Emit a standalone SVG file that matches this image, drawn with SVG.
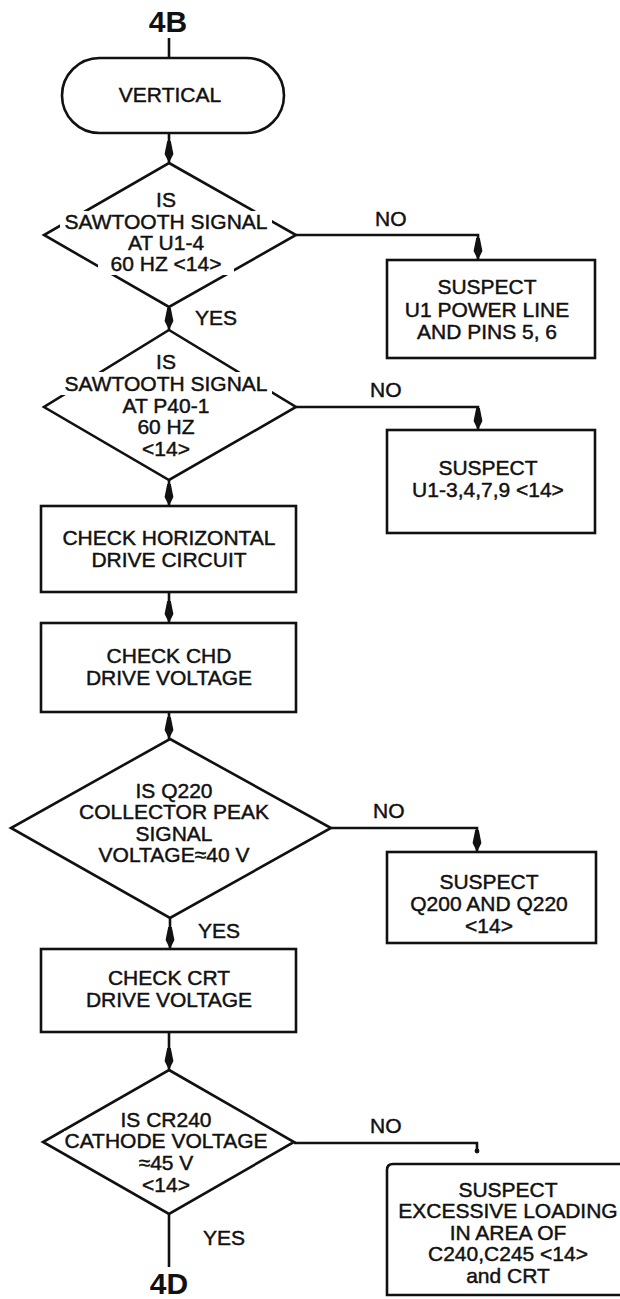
<svg xmlns="http://www.w3.org/2000/svg" width="620" height="1299" viewBox="0 0 620 1299">
<style>
  .shape { fill: #fff; stroke: #111; stroke-width: 2.6; stroke-linejoin: miter; }
  .conn { fill: none; stroke: #111; stroke-width: 2.6; }
  .t { font-family: "Liberation Sans", Arial, sans-serif; font-size: 21px; fill: #111; stroke: #111; stroke-width: 0.45; text-anchor: middle; }
  .gap { fill: #fff; stroke: none; }
  .lbl { font-family: "Liberation Sans", Arial, sans-serif; font-size: 21px; fill: #111; stroke: #111; stroke-width: 0.45; }
  .big { font-family: "Liberation Sans", Arial, sans-serif; font-weight: bold; fill: #111; text-anchor: middle; }
</style>
<defs>
  <marker id="arr" viewBox="-24 -5 25 10" refX="0" refY="0" markerWidth="25" markerHeight="10" markerUnits="userSpaceOnUse" orient="auto">
    <path d="M0,0 L-9,-4.4 L-22,-1.8 L-22,1.8 L-9,4.4 Z" fill="#111"/>
  </marker>
</defs>
<rect width="620" height="1299" fill="#fff"/>

<g id="connectors">
  <line class="conn" x1="169" y1="38" x2="169" y2="58"/>
  <line class="conn" x1="169" y1="133" x2="169" y2="163" marker-end="url(#arr)"/>
  <line class="conn" x1="169" y1="307" x2="169" y2="330" marker-end="url(#arr)"/>
  <polyline class="conn" points="296,235 478,235 478,260" marker-end="url(#arr)"/>
  <line class="conn" x1="169" y1="480" x2="169" y2="506" marker-end="url(#arr)"/>
  <polyline class="conn" points="296,407 478,407 478,430" marker-end="url(#arr)"/>
  <line class="conn" x1="169" y1="592" x2="169" y2="623" marker-end="url(#arr)"/>
  <line class="conn" x1="169" y1="712" x2="169" y2="739" marker-end="url(#arr)"/>
  <polyline class="conn" points="331,828 477,828 477,852" marker-end="url(#arr)"/>
  <line class="conn" x1="170" y1="918" x2="170" y2="949" marker-end="url(#arr)"/>
  <line class="conn" x1="169" y1="1032" x2="169" y2="1070" marker-end="url(#arr)"/>
  <polyline class="conn" points="294,1143 477,1143 477,1151"/>
  <circle cx="477" cy="1151" r="2.4" fill="#111"/>
  <line class="conn" x1="169" y1="1214" x2="169" y2="1267"/>
</g>

<g id="label-4B"><text class="big" x="168" y="32" font-size="30">4B</text></g>

<g id="start">
  <rect class="shape" x="62" y="58" width="222" height="75" rx="37.5" ry="37.5"/>
  <text class="t" x="170" y="102">VERTICAL</text>
</g>

<g id="d1">
  <polygon class="shape" points="169,163 296,235 169,307 44,235"/>
  <rect class="gap" x="60" y="211" width="212" height="22"/>
  <rect class="gap" x="98" y="254" width="136" height="21"/>
  <text class="t" x="166" y="207">IS</text>
  <text class="t" x="166" y="229">SAWTOOTH SIGNAL</text>
  <text class="t" x="166" y="250">AT U1-4</text>
  <text class="t" x="166" y="271">60 HZ &lt;14&gt;</text>
</g>
<text class="lbl" x="375" y="226">NO</text>
<text class="lbl" x="195" y="325">YES</text>

<g id="s1">
  <rect class="shape" x="387" y="260" width="208" height="98"/>
  <text class="t" x="487" y="294">SUSPECT</text>
  <text class="t" x="487" y="317">U1 POWER LINE</text>
  <text class="t" x="487" y="339">AND PINS 5, 6</text>
</g>

<g id="d2">
  <polygon class="shape" points="169,330 296,407 169,480 44,407"/>
  <rect class="gap" x="60" y="372" width="212" height="23"/>
  <text class="t" x="166" y="369">IS</text>
  <text class="t" x="166" y="391">SAWTOOTH SIGNAL</text>
  <text class="t" x="166" y="413">AT P40-1</text>
  <text class="t" x="166" y="434">60 HZ</text>
  <text class="t" x="166" y="456">&lt;14&gt;</text>
</g>
<text class="lbl" x="370" y="397">NO</text>

<g id="s2">
  <rect class="shape" x="387" y="430" width="208" height="103"/>
  <text class="t" x="488" y="475">SUSPECT</text>
  <text class="t" x="488" y="497">U1-3,4,7,9 &lt;14&gt;</text>
</g>

<g id="b-horiz">
  <rect class="shape" x="41" y="506" width="255" height="86"/>
  <text class="t" x="169" y="545">CHECK HORIZONTAL</text>
  <text class="t" x="169" y="567">DRIVE CIRCUIT</text>
</g>

<g id="b-chd">
  <rect class="shape" x="41" y="623" width="255" height="89"/>
  <text class="t" x="169" y="663">CHECK CHD</text>
  <text class="t" x="169" y="685">DRIVE VOLTAGE</text>
</g>

<g id="d3">
  <polygon class="shape" points="170,739 331,828 170,918 11,828"/>
  <text class="t" x="174" y="798">IS Q220</text>
  <text class="t" x="174" y="819">COLLECTOR PEAK</text>
  <text class="t" x="174" y="841">SIGNAL</text>
  <text class="t" x="174" y="862">VOLTAGE≈40 V</text>
</g>
<text class="lbl" x="373" y="818">NO</text>
<text class="lbl" x="198" y="938">YES</text>

<g id="s3">
  <rect class="shape" x="387" y="852" width="209" height="91"/>
  <text class="t" x="489" y="889">SUSPECT</text>
  <text class="t" x="489" y="911">Q200 AND Q220</text>
  <text class="t" x="489" y="933">&lt;14&gt;</text>
</g>

<g id="b-crt">
  <rect class="shape" x="41" y="949" width="255" height="83"/>
  <text class="t" x="169" y="985">CHECK CRT</text>
  <text class="t" x="169" y="1007">DRIVE VOLTAGE</text>
</g>

<g id="d4">
  <polygon class="shape" points="169,1070 294,1142 169,1214 43,1142"/>
  <rect class="gap" x="64" y="1131" width="206" height="21"/>
  <text class="t" x="166" y="1127">IS CR240</text>
  <text class="t" x="166" y="1148">CATHODE VOLTAGE</text>
  <text class="t" x="166" y="1170">≈45 V</text>
  <text class="t" x="166" y="1192">&lt;14&gt;</text>
</g>
<text class="lbl" x="370" y="1133">NO</text>
<text class="lbl" x="203" y="1245">YES</text>

<g id="s4">
  <path class="shape" d="M625,1164 H393 Q387,1164 387,1170 V1295 H625"/>
  <text class="t" x="508" y="1197">SUSPECT</text>
  <text class="t" x="508" y="1218">EXCESSIVE LOADING</text>
  <text class="t" x="508" y="1240">IN AREA OF</text>
  <text class="t" x="508" y="1261">C240,C245 &lt;14&gt;</text>
  <text class="t" x="508" y="1283">and CRT</text>
</g>

<g id="label-4D"><text class="big" x="169" y="1294" font-size="30">4D</text></g>
</svg>
